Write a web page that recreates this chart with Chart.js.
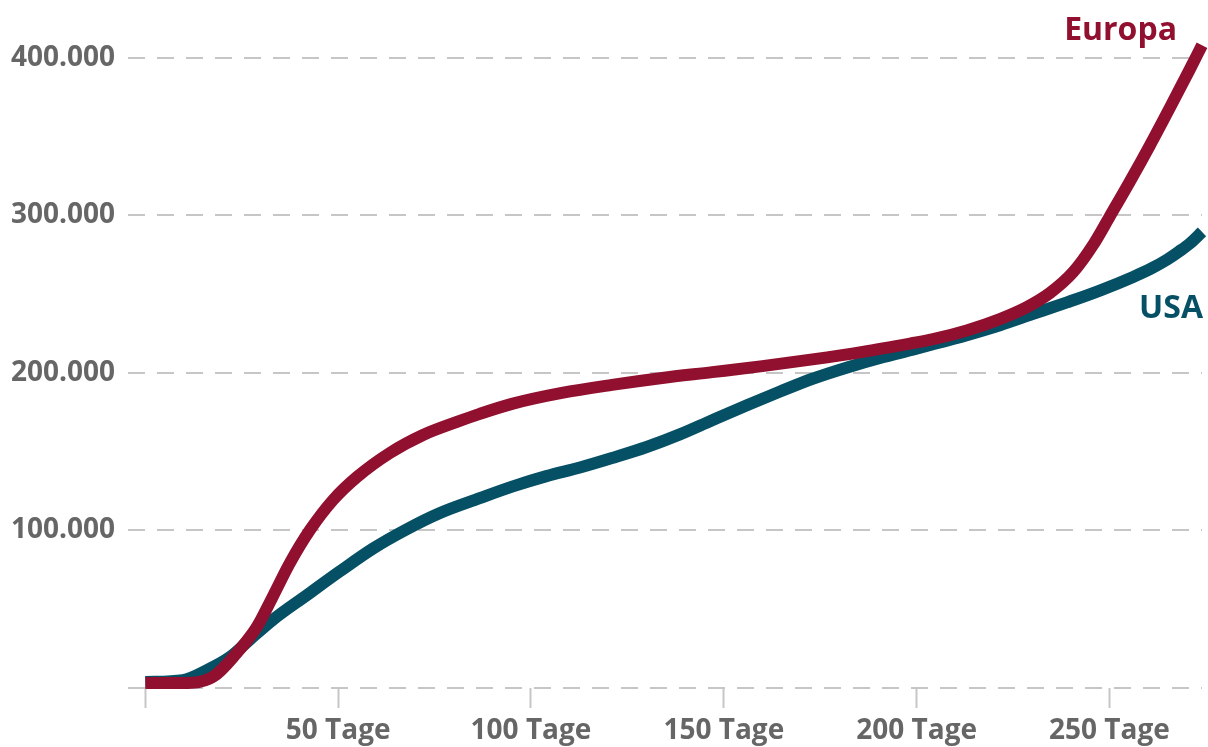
<!DOCTYPE html>
<html lang="de">
<head>
<meta charset="utf-8">
<title>Europa und USA</title>
<script src="https://cdn.jsdelivr.net/npm/chart.js@4/dist/chart.umd.min.js"></script>
<style>
  html, body { margin: 0; padding: 0; background: #ffffff; }
  #wrap { width: 1208px; height: 747px; }
</style>
</head>
<body>
<div id="wrap"><canvas id="chart" width="1208" height="747"></canvas></div>
<script>
// Days since start and cumulative values for each region
const europaDays = [0, 9.7, 17.5, 23.7, 28.9, 33, 37.5, 42.7, 48.7, 54.9, 63.4, 72, 80.8, 86.7, 95.3, 108, 121, 134, 147, 160, 173, 186, 199, 204, 213, 221.6, 228.6, 234.6, 240.6, 245.7, 250, 255.3, 260.5, 265.7, 270.9, 274];
const europaValues = [3200, 3200, 7000, 22200, 38700, 57800, 79400, 100300, 119400, 134000, 149200, 160600, 168900, 174000, 180500, 187300, 192400, 196800, 200500, 204300, 208600, 213400, 219000, 221300, 227000, 234200, 241800, 250800, 264000, 281000, 299000, 321500, 344500, 368500, 393000, 408000];

const usaDays = [0, 9.7, 16, 22, 27, 33, 41.9, 50.4, 59, 67.8, 76.4, 86.7, 95.3, 104, 112.7, 121, 130, 138.6, 147, 156, 164.6, 173, 182, 190.5, 199, 204, 213, 221.6, 230, 239, 247.5, 256, 261, 265, 268, 271, 274];
const usaValues = [3800, 5000, 11400, 19700, 30500, 43200, 59000, 74000, 88500, 100800, 111100, 120500, 128000, 134500, 140000, 146000, 153000, 161000, 170000, 179500, 188200, 196300, 203500, 209500, 214800, 218000, 224000, 230300, 237300, 244800, 252300, 260800, 266500, 272000, 277000, 282500, 289500];

const xTickValues = [0, 50, 100, 150, 200, 250];
const yTickValues = [0, 100000, 200000, 300000, 400000];

const seriesNames = ['Europa', 'USA'];

const europaColor = '#92102f';
const usaColor = '#065065';
const textGray = '#666666';
const gridGray = '#c6c6c6';

const toPoints = (days, values) => days.map((d, i) => ({ x: d, y: values[i] }));

const formatThousands = v => String(v).replace(/\B(?=(\d{3})+(?!\d))/g, '.');

// Series names written next to the line ends
const seriesLabels = {
  id: 'seriesLabels',
  afterDatasetsDraw(chart) {
    const { ctx, chartArea, scales } = chart;
    ctx.save();
    ctx.font = '700 32px "Open Sans"';
    ctx.textAlign = 'right';
    ctx.textBaseline = 'alphabetic';
    ctx.fillStyle = europaColor;
    ctx.fillText(seriesNames[0], chartArea.right - 25, scales.y.getPixelForValue(411500));
    ctx.fillStyle = usaColor;
    ctx.fillText(seriesNames[1], chartArea.right + 1, scales.y.getPixelForValue(235000));
    ctx.restore();
  }
};

const tickFont = { family: '"Open Sans", sans-serif', weight: '700', size: 28 };

new Chart(document.getElementById('chart'), {
  type: 'line',
  data: {
    datasets: [
      {
        label: seriesNames[0],
        data: toPoints(europaDays, europaValues),
        borderColor: europaColor,
        borderWidth: 12,
        pointRadius: 0,
        cubicInterpolationMode: 'monotone',
        clip: false,
        order: 0
      },
      {
        label: seriesNames[1],
        data: toPoints(usaDays, usaValues),
        borderColor: usaColor,
        borderWidth: 12,
        pointRadius: 0,
        cubicInterpolationMode: 'monotone',
        clip: false,
        order: 1
      }
    ]
  },
  options: {
    responsive: false,
    animation: false,
    layout: { padding: { top: 22, right: 6, left: 0, bottom: 0 } },
    plugins: {
      legend: { display: false },
      tooltip: { enabled: false }
    },
    scales: {
      x: {
        type: 'linear',
        min: -4.5,
        max: 274,
        afterBuildTicks: s => { s.ticks = xTickValues.map(v => ({ value: v })); },
        afterFit: s => { s.height = 59; },
        border: { display: false },
        grid: {
          drawOnChartArea: false,
          drawTicks: true,
          tickLength: 20,
          tickColor: gridGray,
          tickWidth: 2,
          color: gridGray
        },
        ticks: {
          color: textGray,
          font: tickFont,
          padding: 6,
          maxRotation: 0,
          autoSkip: false,
          callback: v => (v === 0 ? '' : v + ' Tage')
        }
      },
      y: {
        min: 0,
        max: 417800,
        afterBuildTicks: s => { s.ticks = yTickValues.map(v => ({ value: v })); },
        afterFit: s => { s.width = 128; },
        border: { display: false, dash: [17, 12] },
        grid: {
          drawTicks: false,
          color: gridGray,
          lineWidth: 2
        },
        ticks: {
          color: textGray,
          font: tickFont,
          padding: 13,
          autoSkip: false,
          callback: v => (v === 0 ? '' : formatThousands(v))
        }
      }
    }
  },
  plugins: [seriesLabels]
});
</script>
</body>
</html>
